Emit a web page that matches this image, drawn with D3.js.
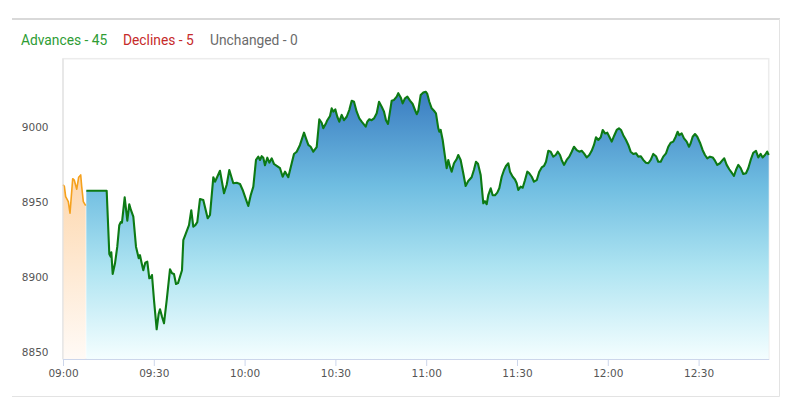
<!DOCTYPE html>
<html><head><meta charset="utf-8">
<script src="https://cdn.jsdelivr.net/npm/d3@7/dist/d3.min.js"></script>
<style>body{margin:0;background:#fff}svg{display:block}</style>
</head><body><svg id="c" width="799" height="416"></svg>
<script>
const legendItems = ["Advances - 45", "Declines - 5", "Unchanged - 0"];
const yTicks = [8850, 8900, 8950, 9000];
const xTickLabels = ["09:00","09:30","10:00","10:30","11:00","11:30","12:00","12:30"];
const xDomain = ["09:00:00", "12:53:10"];
const yDomain = [8845.8, 9046];

const preOpenTimes = ["09:00:00","09:00:26","09:00:53","09:01:45","09:02:19","09:03:12","09:03:44","09:04:32","09:05:11","09:05:51","09:06:11","09:06:43","09:07:30"];
const preOpenValues = [8962,8961,8954,8950.7,8943,8966,8965,8959,8967,8968.5,8960.7,8950.7,8948];

const indexTimes = ["09:07:42","09:14:26","09:15:18","09:15:46","09:15:58","09:16:25","09:17:11","09:17:56","09:18:36","09:19:04","09:19:29","09:20:23","09:21:15","09:21:54","09:22:28","09:23:14","09:24:07","09:25:01","09:25:26","09:26:00","09:26:32","09:27:11","09:27:51","09:28:31","09:28:59","09:29:24","09:30:04","09:30:57","09:31:37","09:32:03","09:32:43","09:33:22","09:34:16","09:35:21","09:36:01","09:36:40","09:37:20","09:38:00","09:38:40","09:39:19","09:39:45","09:40:25","09:41:04","09:41:38","09:42:23","09:43:03","09:43:43","09:44:22","09:45:16","09:46:21","09:47:48","09:48:34","09:49:40","09:50:13","09:50:59","09:51:52","09:53:12","09:54:05","09:54:57","09:56:16","09:57:24","09:58:29","09:59:22","10:00:08","10:01:13","10:02:01","10:02:53","10:03:46","10:04:32","10:05:05","10:05:39","10:06:11","10:06:44","10:07:30","10:08:10","10:08:58","10:09:43","10:10:37","10:11:42","10:12:35","10:13:21","10:14:26","10:15:34","10:16:19","10:17:13","10:18:18","10:19:38","10:20:17","10:21:03","10:21:50","10:22:42","10:23:49","10:24:41","10:25:28","10:26:00","10:26:54","10:27:20","10:28:13","10:28:47","10:29:19","10:29:58","10:30:38","10:31:17","10:32:05","10:32:50","10:33:44","10:34:35","10:35:23","10:36:09","10:37:02","10:37:54","10:38:41","10:40:01","10:40:32","10:41:12","10:41:59","10:42:45","10:43:39","10:44:25","10:45:18","10:46:04","10:46:43","10:47:23","10:48:02","10:48:36","10:49:22","10:50:15","10:50:47","10:51:35","10:52:14","10:53:00","10:53:46","10:54:39","10:55:32","10:56:18","10:56:52","10:57:23","10:58:11","10:59:02","10:59:50","11:00:22","11:01:02","11:01:49","11:02:35","11:03:14","11:04:00","11:04:20","11:04:47","11:05:27","11:06:13","11:06:46","11:07:18","11:07:52","11:08:25","11:09:11","11:10:04","11:10:36","11:11:23","11:12:15","11:13:02","11:13:54","11:15:01","11:15:47","11:16:27","11:17:07","11:18:00","11:18:52","11:19:26","11:19:59","11:20:31","11:21:19","11:21:58","11:22:44","11:23:29","11:24:09","11:24:57","11:25:43","11:26:22","11:27:08","11:27:41","11:28:35","11:29:20","11:29:54","11:30:26","11:31:13","11:31:53","11:32:38","11:33:24","11:34:04","11:34:52","11:35:37","11:36:31","11:37:22","11:38:10","11:38:55","11:39:35","11:40:21","11:41:08","11:42:00","11:42:47","11:43:27","11:44:13","11:44:46","11:45:32","11:46:25","11:47:17","11:48:05","11:48:50","11:49:44","11:50:35","11:51:23","11:52:08","11:53:02","11:53:53","11:54:41","11:55:26","11:56:06","11:56:52","11:57:40","11:58:19","11:59:05","11:59:50","12:00:30","12:01:18","12:02:04","12:02:57","12:03:42","12:04:22","12:05:07","12:06:01","12:06:47","12:07:34","12:08:26","12:09:19","12:10:05","12:10:52","12:11:44","12:12:37","12:13:23","12:14:11","12:15:02","12:15:56","12:16:41","12:17:29","12:18:20","12:19:14","12:19:59","12:20:47","12:21:38","12:22:26","12:23:05","12:23:37","12:24:25","12:25:11","12:26:04","12:26:50","12:27:23","12:28:03","12:28:49","12:29:34","12:30:28","12:31:21","12:32:07","12:32:53","12:33:46","12:34:40","12:35:25","12:36:11","12:37:04","12:37:58","12:38:29","12:39:17","12:40:08","12:40:56","12:41:41","12:42:21","12:43:07","12:43:55","12:44:46","12:45:40","12:46:25","12:47:13","12:48:04","12:48:58","12:49:43","12:50:31","12:51:10","12:51:56","12:52:41","12:53:10"];
const indexValues = [8958,8958,8915.8,8914,8917,8902.5,8909.6,8920.7,8935,8937,8936.7,8953.6,8938,8949,8945,8940.7,8920.7,8913,8915,8909.6,8905,8910,8910.7,8899.6,8900,8901.8,8885,8865.6,8876,8879,8874,8869.6,8885,8905.6,8903,8902.5,8895.8,8896.4,8900.7,8905,8925,8928.5,8932,8935,8945,8934,8935,8937,8952.5,8951.8,8939.6,8941.8,8967,8964,8967.3,8971.3,8956.3,8962,8971.8,8963,8963.3,8962.5,8958.5,8954,8947.8,8955,8960.7,8978.5,8980.7,8978.5,8981,8980,8975,8980,8976.7,8979.6,8975.8,8974.5,8973,8967.3,8970.7,8967,8976.3,8982.5,8984,8988.5,8996.7,8992.9,8988.5,8987.3,8984,8987,9005.6,9003.3,8999.6,9003,9005,9007.8,9012.9,9010.7,9012.2,9007.3,9004,9008.5,9005,9007.3,9011.8,9018,9017.3,9010.7,9006.2,9004,9000.7,9004,9005.6,9005,9006.2,9009.6,9017.3,9014,9010.7,9005,9002.5,9010.7,9018,9018.5,9020.7,9023,9020.2,9016.2,9019.6,9020.7,9018,9015.8,9011.8,9009,9011.3,9021.8,9023.4,9024,9022.5,9017.3,9012.9,9011.3,9009.6,8999.6,8997.3,8998.5,8991.8,8980.7,8973,8978.5,8974,8970.7,8976.3,8979,8981.8,8978.5,8969.6,8961.1,8964.5,8967,8972,8977.3,8976,8968.5,8949.6,8951,8949,8955,8959.6,8955,8955,8956.7,8959.6,8967.3,8971.8,8974.5,8976.3,8970.7,8967.3,8965.5,8963,8958.5,8960.7,8960,8965,8970.7,8969.6,8967.3,8964,8965,8970.7,8973.5,8974.5,8977.3,8984.6,8984,8980.7,8981.8,8984,8981.8,8978.5,8975.2,8978.5,8980.7,8984,8987.3,8985,8984,8984.6,8982.9,8980.2,8981.8,8984.6,8988.5,8993.6,8991.8,8993.6,8998.5,8996.2,8996.7,8994,8990.7,8994.5,8998.5,8999.6,8998.5,8995,8991.8,8988.5,8984,8982.5,8983,8980.7,8981,8978.5,8976.7,8976.3,8978.5,8982.5,8981,8977.3,8977.3,8980.7,8982.9,8987.3,8990,8990.7,8994,8997.3,8995,8996.2,8992.9,8990.7,8987.3,8989.6,8994,8995.8,8994,8990,8985,8981.8,8979.6,8980.7,8980.2,8978,8975.2,8976.3,8978.5,8979.6,8975.2,8972.3,8970,8967.8,8971.8,8975.2,8973,8969.1,8969.6,8973,8978.5,8983.3,8984.6,8980.2,8982.5,8980.2,8981.8,8984,8981.8];

const parse = d3.timeParse("%H:%M:%S");
const parseHM = d3.timeParse("%H:%M");
const pre = preOpenTimes.map((t,i)=>({t:parse(t), v:preOpenValues[i]}));
const idx = indexTimes.map((t,i)=>({t:parse(t), v:indexValues[i]}));

const svg = d3.select("#c");
const L = 63, R = 768.7, T = 58.7, B = 359;
const x = d3.scaleTime().domain(xDomain.map(parse)).range([L, R]);
const y = d3.scaleLinear().domain(yDomain).range([B, T]);

// card
svg.append("line").attr("x1",12).attr("x2",780).attr("y1",19).attr("y2",19).attr("stroke","#d9d9d9").attr("stroke-width",2);
svg.append("line").attr("x1",12).attr("x2",779.5).attr("y1",396.5).attr("y2",396.5).attr("stroke","#e3e3e3");
svg.append("line").attr("x1",779.5).attr("x2",779.5).attr("y1",19).attr("y2",396.5).attr("stroke","#e3e3e3");

// legend
const legendColors = ["#2e9c34","#c62a2a","#6b6b6b"];
const legendX = [21, 123, 210];
legendItems.forEach((s,i)=>{
  svg.append("text").attr("x",legendX[i]).attr("y",45).attr("fill",legendColors[i])
    .attr("font-family","Roboto, sans-serif").attr("font-size",13.8).text(s);
});

// plot frame
svg.append("rect").attr("x",L).attr("y",T).attr("width",R-L).attr("height",B-T)
  .attr("fill","none").attr("stroke","#ececec").attr("stroke-width",1.5);

// gradients
const defs = svg.append("defs");
const g1 = defs.append("linearGradient").attr("id","gBlue").attr("x1",0).attr("y1",0).attr("x2",0).attr("y2",1);
[[0,"#3a7cc1"],[0.35,"#6fbde1"],[0.65,"#ace3f1"],[1,"#f4feff"]].forEach(s=>g1.append("stop").attr("offset",s[0]).attr("stop-color",s[1]));
const g2 = defs.append("linearGradient").attr("id","gOrange").attr("x1",0).attr("y1",0).attr("x2",0).attr("y2",1);
[[0,"#fdd7ad"],[1,"#fffaf6"]].forEach(s=>g2.append("stop").attr("offset",s[0]).attr("stop-color",s[1]));

const area = d3.area().x(d=>x(d.t)).y0(B).y1(d=>y(d.v));
const line = d3.line().x(d=>x(d.t)).y(d=>y(d.v));

svg.append("path").datum(pre).attr("d",area).attr("fill","url(#gOrange)");
svg.append("path").datum(idx).attr("d",area).attr("fill","url(#gBlue)");
svg.append("path").datum(pre).attr("d",line).attr("fill","none").attr("stroke","#f5a11c").attr("stroke-width",1.6).attr("stroke-linejoin","round");
svg.append("path").datum(idx).attr("d",line).attr("fill","none").attr("stroke","#0d7a14").attr("stroke-width",2.1).attr("stroke-linejoin","round");

// left axis line
svg.append("line").attr("x1",L).attr("x2",L).attr("y1",T).attr("y2",B).attr("stroke","#e0e0e0");

// x axis
const xAxis = d3.axisBottom(x).tickValues(xTickLabels.map(parseHM)).tickFormat(d3.timeFormat("%H:%M")).tickSize(7).tickSizeOuter(0);
const gx = svg.append("g").attr("transform",`translate(0,${B})`).call(xAxis);
gx.select(".domain").attr("stroke","#ccd6eb");
gx.selectAll(".tick line").attr("stroke","#ccd6eb");
gx.selectAll("text").attr("fill","#555").attr("font-family","DejaVu Sans, sans-serif").attr("font-size",10.5).attr("dy","1.3em").attr("y",4);

// y labels
svg.append("g").selectAll("text").data(yTicks).join("text")
  .attr("x",48.5).attr("y",d=>y(d)).attr("dy","0.35em").attr("text-anchor","end")
  .attr("fill","#555").attr("font-family","DejaVu Sans, sans-serif").attr("font-size",10.5).text(d=>d);
</script></body></html>
